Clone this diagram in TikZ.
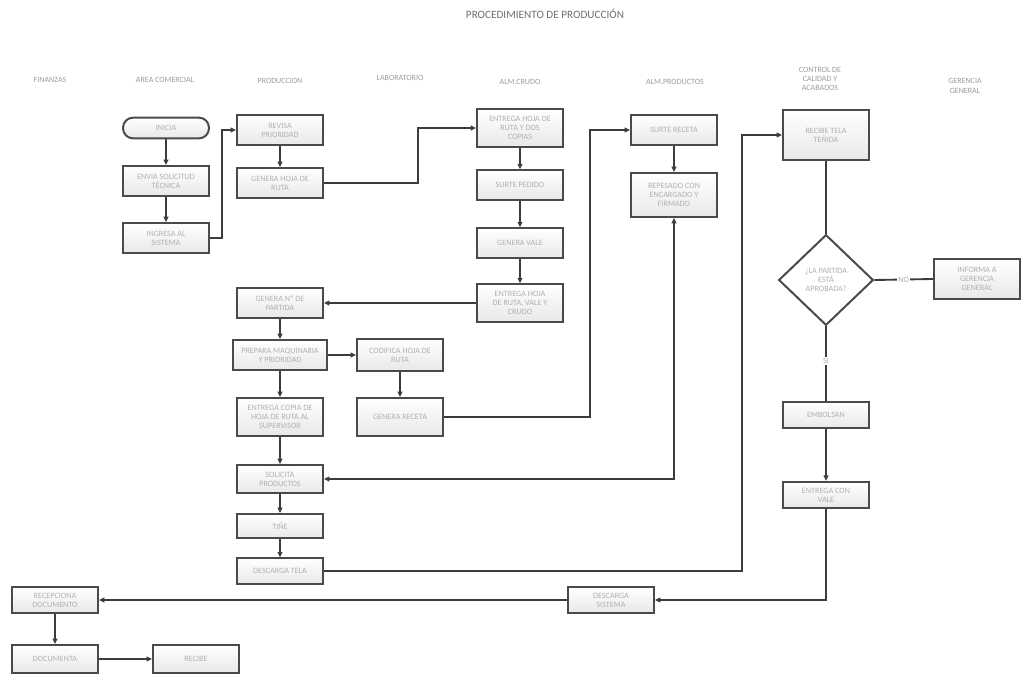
\documentclass[tikz,border=0pt]{standalone}
\usepackage{fontspec}
\setmainfont{Carlito}
\usetikzlibrary{arrows.meta,shapes.geometric}
\definecolor{ln}{HTML}{3C3C3C}
\definecolor{bx}{HTML}{4A4A4A}
\begin{document}
\begin{tikzpicture}[x=0.75pt,y=-0.75pt,
  box/.style={draw=bx,line width=1.5pt,top color=white,bottom color=gray!18,
    font=\fontsize{6.1}{6.9}\selectfont,text=gray!62,align=center,inner sep=1pt,
    minimum width=64.5pt},
  term/.style={box,rounded corners=7.5pt},
  dia/.style={draw=bx,line width=1.5pt,fill=white,diamond,inner sep=0pt,
    minimum width=71pt,minimum height=68pt,font=\fontsize{6.1}{6.9}\selectfont,text=gray!62,align=center},
  hdr/.style={font=\fontsize{6}{7}\selectfont,text=gray!78,align=center},
  ttl/.style={font=\fontsize{8.4}{9.5}\selectfont,text=gray!88!black},
  lnk/.style={draw=ln,line width=1.4pt},
  arr/.style={lnk,-{Triangle[length=4pt,width=3.6pt]}},
  lbl/.style={fill=white,inner sep=1pt,font=\fontsize{6.1}{6.9}\selectfont,text=gray!65}
]
\useasboundingbox (0,0) rectangle (1027,675);
\fill[white] (0,0) rectangle (1027,675);

% title and headers
\node[ttl] (title) at (545,14) {PROCEDIMIENTO DE PRODUCCIÓN};
\node[hdr] (h1) at (50,80) {FINANZAS};
\node[hdr] (h2) at (165,80) {AREA COMERCIAL};
\node[hdr] (h3) at (280,81) {PRODUCCION};
\node[hdr] (h4) at (400,78) {LABORATORIO};
\node[hdr] (h5) at (520,82) {ALM.CRUDO};
\node[hdr] (h6) at (675,82) {ALM.PRODUCTOS};
\node[hdr] (h7) at (820,79) {CONTROL DE\\CALIDAD Y\\ACABADOS};
\node[hdr] (h8) at (965,86) {GERENCIA\\GENERAL};

% area comercial
\node[term,minimum height=15.5pt] (inicia) at (166,128) {INICIA};
\node[box,minimum height=22.5pt] (envia) at (166,181) {ENVIA SOLICITUD\\TÉCNICA};
\node[box,minimum height=22.5pt] (ingresa) at (166,238) {INGRESA AL\\SISTEMA};

% produccion
\node[box,minimum height=22.5pt] (revisa) at (280,130) {REVISA\\PRIORIDAD};
\node[box,minimum height=22.5pt] (generah) at (280,183) {GENERA HOJA DE\\RUTA};
\node[box,minimum height=22.5pt] (generanp) at (280,303) {GENERA Nº DE\\PARTIDA};
\node[box,minimum height=22.5pt,minimum width=70pt] (prepara) at (280,355) {PREPARA MAQUINARIA\\Y PRIORIDAD};
\node[box,minimum height=28.5pt] (entregac) at (280,417) {ENTREGA COPIA DE\\HOJA DE RUTA AL\\SUPERVISOR};
\node[box,minimum height=21pt] (solicita) at (280,479) {SOLICITA\\PRODUCTOS};
\node[box,minimum height=18pt] (tine) at (280,526) {TIÑE};
\node[box,minimum height=19pt] (descargat) at (280,571) {DESCARGA TELA};

% laboratorio
\node[box,minimum height=24.5pt] (codifica) at (400,355) {CODIFICA HOJA DE\\RUTA};
\node[box,minimum height=28.5pt] (generar) at (400,417) {GENERA RECETA};

% alm crudo
\node[box,minimum height=28pt] (entregah) at (520,128) {ENTREGA HOJA DE\\RUTA Y DOS\\COPIAS};
\node[box,minimum height=22pt] (surtep) at (520,185) {SURTE PEDIDO};
\node[box,minimum height=22pt] (generav) at (520,243) {GENERA VALE};
\node[box,minimum height=28pt] (entregaf) at (520,303) {ENTREGA HOJA\\DE RUTA, VALE Y\\CRUDO};

% alm productos
\node[box,minimum height=22pt] (surter) at (674,130) {SURTE RECETA};
\node[box,minimum height=33pt] (repesado) at (674,195) {REPESADO CON\\ENCARGADO Y\\FIRMADO};

% control de calidad
\node[box,minimum height=38pt] (recibet) at (826,135) {RECIBE TELA\\TEÑIDA};
\node[dia] (aprob) at (826,280) {¿LA PARTIDA\\ESTÁ\\APROBADA?};
\node[box,minimum height=20pt] (embolsan) at (826,415) {EMBOLSAN};
\node[box,minimum height=20pt] (entregav) at (826,495) {ENTREGA CON\\VALE};

% gerencia
\node[box,minimum height=30pt] (informa) at (977,279) {INFORMA A\\GERENCIA\\GENERAL};

% descarga sistema and finanzas
\node[box,minimum height=19pt] (descargas) at (611,600) {DESCARGA\\SISTEMA};
\node[box,minimum height=20pt] (recepciona) at (55,600) {RECEPCIONA\\DOCUMENTO};
\node[box,minimum height=21pt] (documenta) at (55,659) {DOCUMENTA};
\node[box,minimum height=21pt] (recibe) at (196,659) {RECIBE};

% connectors
\draw[arr] (inicia) -- (envia);
\draw[arr] (envia) -- (ingresa);
\draw[arr] (ingresa.east) -- ++(12,0) |- (revisa.west);
\draw[arr] (revisa) -- (generah);
\draw[arr] (generah.east) -- ++(94,0) |- (entregah.west);
\draw[arr] (entregah) -- (surtep);
\draw[arr] (surtep) -- (generav);
\draw[arr] (generav) -- (entregaf);
\draw[arr] (entregaf.west) -- (generanp.east);
\draw[arr] (generanp) -- (prepara);
\draw[arr] (prepara.east) -- (codifica.west);
\draw[arr] (codifica) -- (generar);
\draw[arr] (prepara) -- (entregac);
\draw[arr] (entregac) -- (solicita);
\draw[arr] (solicita) -- (tine);
\draw[arr] (tine) -- (descargat);
\draw[arr] (generar.east) -- ++(146,0) |- (surter.west);
\draw[arr] (surter) -- (repesado);
\draw[lnk,{Triangle[length=4pt,width=3.6pt]}-{Triangle[length=4pt,width=3.6pt]}] (solicita.east) -| (repesado.south);
\draw[arr] (descargat.east) -- ++(418,0) |- (recibet.west);
\draw[lnk] (recibet) -- (aprob.north);
\draw[lnk] (aprob.east) -- node[lbl] {NO} (informa.west);
\draw[lnk] (aprob.south) -- node[lbl,pos=0.47] {SI} (embolsan.north);
\draw[arr] (embolsan) -- (entregav);
\draw[arr] (entregav.south) |- (descargas.east);
\draw[arr] (descargas.west) -- (recepciona.east);
\draw[arr] (recepciona) -- (documenta);
\draw[arr] (documenta) -- (recibe);
\end{tikzpicture}
\end{document}
